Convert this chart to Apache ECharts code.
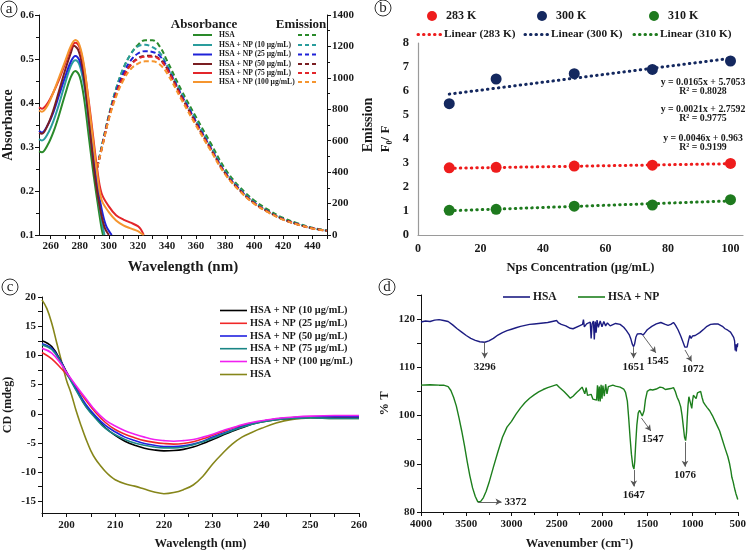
<!DOCTYPE html>
<html><head><meta charset="utf-8">
<script src="https://cdn.jsdelivr.net/npm/echarts@6/dist/echarts.min.js"></script>
<style>html,body{margin:0;padding:0;background:#fff}#c{width:749px;height:551px}</style>
</head><body><div id="c"></div>
<script>
const SERIF = '"Liberation Serif","Times New Roman",serif';

// ---------- Panel a : absorbance (left axis) ----------
const absSeriesNames = ['HSA','HSA + NP (10 μg/mL)','HSA + NP (25 μg/mL)','HSA + NP (50 μg/mL)','HSA + NP (75 μg/mL)','HSA + NP (100 μg/mL)'];
const aColors = ['#2a8a2a','#2a9d9d','#1f22d8','#7a1e22','#e3262b','#f5952f'];
const absWlHSA = [252,254,258,262,266,270,274,277,280,283,286,289,292,295,296];
const absHSA   = [0.29,0.288,0.305,0.335,0.375,0.42,0.46,0.473,0.46,0.41,0.33,0.25,0.18,0.115,0.1];
const absWl10  = [252,254,258,262,266,270,274,277,280,283,286,289,292,295,297];
const abs10    = [0.318,0.315,0.33,0.36,0.40,0.445,0.485,0.497,0.485,0.44,0.36,0.275,0.2,0.135,0.1];
const absWl25  = [252,254,258,262,266,270,274,277,280,283,286,289,292,295,298,302];
const abs25    = [0.337,0.333,0.35,0.38,0.42,0.46,0.495,0.507,0.495,0.455,0.38,0.29,0.215,0.16,0.122,0.1];
const absWl50  = [252,254,258,262,266,270,274,276,279,282,285,288,291,294,297,300];
const abs50    = [0.332,0.33,0.35,0.385,0.43,0.475,0.515,0.53,0.52,0.48,0.40,0.305,0.22,0.16,0.118,0.1];
const absWl75  = [252,254,258,262,266,270,274,277,280,283,286,289,292,295,300,305,310,315,320,322,324];
const abs75    = [0.39,0.387,0.40,0.425,0.455,0.49,0.525,0.537,0.525,0.48,0.41,0.33,0.25,0.195,0.165,0.145,0.135,0.128,0.12,0.113,0.1];
const absWl100 = [252,254,258,262,266,270,274,277,280,283,286,289,292,295,300,305,310,315,320,322,324];
const abs100   = [0.383,0.38,0.395,0.425,0.46,0.495,0.53,0.543,0.53,0.485,0.405,0.32,0.24,0.18,0.152,0.133,0.122,0.115,0.109,0.104,0.1];

// ---------- Panel a : emission (right axis) ----------
const emWl    = [292,296,300,305,310,315,320,325,330,335,340,350,360,370,380,390,400,410,420,430,440,450];
const emHSA   = [430,600,760,930,1060,1150,1210,1240,1240,1200,1110,920,750,585,420,305,220,158,108,74,46,28];
const em10    = [430,600,760,930,1060,1150,1200,1210,1195,1160,1080,900,730,565,405,295,210,150,102,70,44,28];
const em25    = [430,590,750,910,1030,1110,1155,1170,1165,1140,1070,890,720,555,398,290,205,147,100,68,43,27];
const em50    = [430,585,745,900,1010,1085,1125,1140,1140,1120,1060,880,710,548,392,285,202,145,99,67,43,27];
const em75    = [430,585,745,895,1005,1080,1120,1135,1135,1115,1055,875,705,545,390,283,200,144,98,67,42,27];
const em100   = [430,580,735,880,985,1055,1090,1105,1105,1085,1030,860,695,537,385,280,198,142,97,66,42,27];
const aXLabels = [260,280,300,320,340,360,380,400,420,440];
const aXTicks  = [260,270,280,290,300,310,320,330,340,350,360,370,380,390,400,410,420,430,440,450];

// ---------- Panel b ----------
const bConc   = [10,25,50,75,100];
const b283    = [2.8,2.82,2.87,2.91,2.98];
const b300    = [5.47,6.5,6.72,6.9,7.25];
const b310    = [1.03,1.07,1.2,1.25,1.47];
const bFitX   = [10,100];
const bFit283 = [2.78,2.97];
const bFit300 = [5.87,7.36];
const bFit310 = [1.01,1.42];
const bColors = ['#ee1c1c','#14285f','#1e7a1e'];
const bEquations = ['y = 0.0165x + 5.7053','R² = 0.8028','y = 0.0021x + 2.7592','R² = 0.9775','y = 0.0046x + 0.963','R² = 0.9199'];
const bXLabels = [0,20,40,60,80,100];

// ---------- Panel c ----------
const cdNames = ['HSA + NP (10 μg/mL)','HSA + NP (25 μg/mL)','HSA + NP (50 μg/mL)','HSA + NP (75 μg/mL)','HSA + NP (100 μg/mL)','HSA'];
const cColors = ['#000000','#f02828','#2020e0','#1a8585','#f020f0','#86861a'];
const cdWl   = [195,197,199,200,202,204,206,208,210,212,214,216,218,220,222,224,226,228,230,232,234,236,238,240,243,246,250,255,260];
const cd10   = [12.5,11.5,8.8,7.2,4.2,1.3,-0.6,-2.4,-3.7,-4.7,-5.4,-5.9,-6.2,-6.35,-6.3,-6.1,-5.7,-5.1,-4.4,-3.7,-3.0,-2.4,-1.8,-1.4,-1.0,-0.8,-0.6,-0.7,-0.7];
const cd25   = [10.5,9.4,7.7,6.8,4.6,2.3,0.2,-1.5,-2.7,-3.5,-4.1,-4.6,-4.9,-5.1,-5.2,-5.1,-4.8,-4.3,-3.7,-3.1,-2.5,-2.0,-1.6,-1.3,-0.9,-0.7,-0.5,-0.5,-0.5];
const cd50   = [12.0,11.2,8.8,7.1,4.3,1.6,-0.4,-2.0,-3.1,-4.0,-4.6,-5.1,-5.4,-5.6,-5.6,-5.5,-5.2,-4.7,-4.0,-3.4,-2.8,-2.2,-1.7,-1.3,-0.9,-0.7,-0.5,-0.5,-0.5];
const cd75   = [11.8,11.0,8.6,7.0,4.0,1.2,-0.8,-2.5,-3.6,-4.4,-5.0,-5.4,-5.7,-5.85,-5.85,-5.7,-5.3,-4.8,-4.2,-3.5,-2.9,-2.3,-1.8,-1.4,-1.0,-0.8,-0.7,-0.8,-0.8];
const cd100  = [11.2,10.4,8.4,7.1,4.8,2.6,0.5,-1.1,-2.1,-2.9,-3.5,-4.0,-4.4,-4.6,-4.7,-4.6,-4.4,-4.0,-3.5,-2.9,-2.4,-1.9,-1.5,-1.2,-0.8,-0.6,-0.4,-0.3,-0.3];
const cdWlHSA = [195,196,197,198,199,200,201,202,203,204,205,206,207,208,209,210,212,214,216,218,220,222,224,226,228,230,232,234,236,238,240,243,246,250,255,260];
const cdHSA   = [19.5,18,15.5,12.2,9,5.8,3.4,0.5,-2,-4.3,-6.3,-7.8,-8.9,-9.9,-10.7,-11.3,-12,-12.4,-12.9,-13.4,-13.7,-13.5,-13,-12.2,-10.7,-8.6,-6.8,-5.2,-4,-3.2,-2.5,-1.6,-1.0,-0.7,-0.8,-0.8];
const cXLabels = [200,210,220,230,240,250,260];
const cXTicks  = [195,200,205,210,215,220,225,230,235,240,245,250,255,260];
const cYLabels = [-15,-10,-5,0,5,10,15,20];
const cYTicks  = [-15,-12.5,-10,-7.5,-5,-2.5,0,2.5,5,7.5,10,12.5,15,17.5,20];

// ---------- Panel d (FTIR) ----------
const dNames = ['HSA','HSA + NP'];
const dColors = ['#1c1c82','#1d7f1d'];
const ftirHSA = [[4000,119.4],[3950,119.6],[3900,119.5],[3850,119.8],[3800,119.9],[3750,119.7],[3700,119.5],[3650,118.8],[3600,118.0],[3550,117.3],[3500,116.6],[3450,116.0],[3400,115.6],[3350,115.3],[3296,115.2],[3250,115.5],[3200,116.0],[3150,116.7],[3100,117.2],[3050,117.6],[3000,117.9],[2950,118.2],[2900,118.5],[2850,118.7],[2800,118.9],[2750,119.0],[2700,119.1],[2650,119.2],[2600,119.3],[2550,119.5],[2500,119.7],[2480,119.2],[2450,118.9],[2400,118.6],[2350,118.1],[2320,118.0],[2300,118.4],[2250,118.6],[2215,118.9],[2205,119.9],[2195,118.4],[2170,119.0],[2150,118.7],[2130,119.4],[2120,116.0],[2110,119.0],[2095,119.6],[2085,115.8],[2075,119.5],[2065,117.2],[2055,119.8],[2040,118.3],[2020,119.6],[2000,118.4],[1980,119.5],[1960,118.6],[1940,119.2],[1910,118.6],[1890,118.9],[1850,119.1],[1800,118.9],[1760,118.3],[1730,117.6],[1700,116.8],[1680,115.8],[1665,114.8],[1651,114.3],[1640,114.8],[1625,116.3],[1610,116.9],[1590,117.2],[1570,117.0],[1545,116.7],[1520,117.3],[1500,117.8],[1450,118.5],[1400,119.0],[1350,119.3],[1300,118.9],[1270,118.7],[1240,118.9],[1210,119.3],[1190,118.8],[1160,117.8],[1130,116.5],[1100,115.0],[1085,114.2],[1072,113.9],[1060,114.2],[1045,115.5],[1030,116.6],[1015,116.0],[1000,116.5],[985,116.1],[970,116.6],[950,116.9],[920,117.2],[900,117.5],[870,118.0],[840,118.5],[800,118.9],[760,119.0],[720,119.0],[700,118.8],[670,118.5],[640,118.0],[610,117.7],[580,117.3],[560,117.0],[545,116.2],[535,115.5],[528,113.5],[522,114.8],[516,113.3],[510,114.8],[505,114.2],[500,115.0]];
const ftirNP = [[4000,106.3],[3900,106.4],[3800,106.3],[3750,106.3],[3700,106.0],[3670,105.2],[3640,103.8],[3610,102.0],[3580,99.5],[3550,96.8],[3520,93.8],[3490,90.5],[3460,87.5],[3430,85.0],[3400,83.2],[3372,82.1],[3340,82.2],[3310,83.0],[3280,84.3],[3250,86.0],[3200,89.3],[3150,92.5],[3100,95.5],[3050,97.6],[3000,98.8],[2950,100.3],[2900,101.6],[2850,102.7],[2800,103.6],[2750,104.3],[2700,104.9],[2650,105.4],[2600,105.8],[2550,106.1],[2500,106.4],[2470,105.8],[2420,105.0],[2380,104.2],[2350,103.6],[2320,104.0],[2280,104.8],[2250,105.3],[2220,105.9],[2200,106.2],[2190,104.5],[2175,105.8],[2160,104.2],[2140,103.8],[2120,104.4],[2100,103.4],[2080,103.7],[2060,103.2],[2050,106.3],[2040,103.0],[2030,106.0],[2020,102.9],[2010,106.4],[2000,103.5],[1990,106.2],[1975,104.0],[1960,106.5],[1945,104.5],[1930,106.0],[1910,105.8],[1880,106.3],[1850,106.1],[1800,105.9],[1760,105.5],[1740,104.8],[1720,103.0],[1705,99.5],[1690,95.5],[1675,92.0],[1660,89.6],[1647,88.9],[1638,90.5],[1628,94.0],[1615,98.0],[1600,100.5],[1585,101.1],[1570,100.8],[1555,99.9],[1547,99.6],[1535,101.0],[1520,103.3],[1500,105.0],[1470,105.4],[1440,105.3],[1400,105.5],[1360,105.9],[1330,105.8],[1300,105.4],[1270,105.5],[1240,105.6],[1210,105.8],[1190,105.0],[1170,103.8],[1150,103.0],[1130,101.8],[1115,100.0],[1100,97.5],[1088,95.5],[1076,94.8],[1066,96.5],[1058,99.5],[1050,102.0],[1040,103.9],[1030,104.3],[1018,103.5],[1008,101.5],[1000,103.0],[990,104.2],[975,104.5],[960,103.5],[945,104.7],[925,105.1],[910,105.0],[895,103.8],[880,102.8],[860,102.2],[840,101.7],[810,101.0],[780,100.0],[750,98.8],[720,97.6],[700,96.8],[670,95.0],[640,93.2],[610,91.5],[590,90.0],[575,88.5],[565,87.2],[560,87.6],[550,86.2],[540,85.3],[530,84.5],[520,83.8],[510,83.2],[505,82.9],[500,82.6]];
// peak annotations: [label, arrow start (x,y), arrow end (x,y)]
const dPeaksHSA = [['3296',3296,115.2,3296,111.9],['1651',1651,114.2,1651,111.9],['1545',1547,116.6,1405,113.0],['1072',1083,113.6,1010,111.2]];
const dPeaksNP  = [['3372',3369,82.1,3110,82.1],['1647',1649,88.7,1649,85.3],['1547',1565,99.5,1460,96.8],['1076',1083,94.5,1083,89.4]];
const dYLabels = [80,90,100,110,120];
const dYTicks  = [80,85,90,95,100,105,110,115,120,125];

// ---------- helpers ----------
const zip = (xs, ys) => xs.map((x, i) => [x, ys[i]]);
const plain = v => String(+v.toFixed(4));
const lblStyle = (size) => ({fontFamily: SERIF, fontWeight: 'bold', fontSize: size, color: '#1a1a1a', formatter: plain});
function axis(extra) {
  const base = {
    type: 'value', splitLine: {show: false},
    axisLine: {show: true, onZero: false, lineStyle: {color: '#111', width: 1}},
    axisTick: {show: true, length: 4, lineStyle: {color: '#111'}},
    nameLocation: 'middle',
    nameTextStyle: {fontFamily: SERIF, fontWeight: 'bold', fontSize: 13, color: '#1a1a1a'}
  };
  const o = Object.assign({}, base, extra);
  o.axisLabel = Object.assign({}, lblStyle(11), extra.axisLabel || {});
  o.axisTick = Object.assign({}, base.axisTick, extra.axisTick || {});
  o.axisLine = Object.assign({}, base.axisLine, extra.axisLine || {});
  o.nameTextStyle = Object.assign({}, base.nameTextStyle, extra.nameTextStyle || {});
  return o;
}
function txt(x, y, t, font, align, color) {
  return {type: 'text', x: x, y: y, silent: true,
    style: {text: t, font: font, fill: color || '#1a1a1a', textAlign: align || 'left', textVerticalAlign: 'middle', align: align || 'left', verticalAlign: 'middle'}};
}
function seg(x1, y1, x2, y2, color, w, dash, cap) {
  return {type: 'line', silent: true, shape: {x1, y1, x2, y2},
    style: {stroke: color, lineWidth: w, lineDash: dash || null, lineCap: cap || 'butt'}};
}
function circLabel(cx, cy, letter) {
  return [{type: 'circle', silent: true, shape: {cx, cy, r: 8}, style: {fill: 'none', stroke: '#333', lineWidth: 1}},
          txt(cx, cy + 0.5, letter, '15px ' + SERIF, 'center', '#222')];
}

// ---------- graphics (legends, labels) ----------
const graphics = [];
graphics.push(...circLabel(9, 9, 'a'), ...circLabel(383, 8, 'b'), ...circLabel(10, 287, 'c'), ...circLabel(387, 287, 'd'));
// panel a legend
graphics.push(txt(204, 25, 'Absorbance', 'bold 13px ' + SERIF, 'center'));
graphics.push(txt(301, 25, 'Emission', 'bold 13px ' + SERIF, 'center'));
const aRows = [35, 45, 54.5, 64, 73, 82];
absSeriesNames.forEach((n, i) => {
  graphics.push(seg(193, aRows[i], 212, aRows[i], aColors[i], 2));
  graphics.push(txt(219, aRows[i], n, 'bold 7.6px ' + SERIF, 'left'));
  graphics.push(seg(298, aRows[i], 317, aRows[i], aColors[i], 2, [4, 3]));
});
// panel b legend
const bLegNames = ['283 K', '300 K', '310 K'];
const bLegX = [432, 542, 654];
bLegNames.forEach((n, i) => {
  graphics.push({type: 'circle', silent: true, shape: {cx: bLegX[i], cy: 16, r: 5}, style: {fill: bColors[i]}});
  graphics.push(txt(bLegX[i] + 14, 16, n, 'bold 12px ' + SERIF, 'left'));
});
const bLinX = [418, 525, 634];
bLegNames.forEach((n, i) => {
  graphics.push(seg(bLinX[i], 34.5, bLinX[i] + 23, 34.5, bColors[i], 3, [0.5, 5], 'round'));
  graphics.push(txt(bLinX[i] + 26, 34.5, 'Linear (' + n + ')', 'bold 11.3px ' + SERIF, 'left'));
});
const bEqY = [82, 91.5, 109, 118.5, 138, 147.5];
bEquations.forEach((t, i) => graphics.push(txt(703, bEqY[i], t, 'bold 9.8px ' + SERIF, 'center')));
// panel c legend
const cRows = [310.5, 323.3, 336, 348.7, 361.5, 374.5];
cdNames.forEach((n, i) => {
  graphics.push(seg(220, cRows[i], 247, cRows[i], cColors[i], 1.6));
  graphics.push(txt(250, cRows[i], n, 'bold 10.3px ' + SERIF, 'left'));
});
// panel d legend
graphics.push(seg(503, 297, 530, 297, dColors[0], 1.6));
graphics.push(txt(533, 297, dNames[0], 'bold 11.5px ' + SERIF, 'left'));
graphics.push(seg(578, 297, 605, 297, dColors[1], 1.6));
graphics.push(txt(608, 297, dNames[1], 'bold 11.5px ' + SERIF, 'left'));

function peakLines(list) {
  return {
    silent: true, symbol: ['none', 'arrow'], symbolSize: [5, 6], precision: 0,
    lineStyle: {color: '#555', width: 0.9, type: 'solid'},
    label: {show: true, position: 'end', distance: 3, formatter: '{b}', fontFamily: SERIF, fontWeight: 'bold', fontSize: 11, color: '#1a1a1a'},
    emphasis: {disabled: true},
    data: list.map(p => [{name: p[0], coord: [p[1], p[2]]}, {coord: [p[3], p[4]]}])
  };
}

const series = [];
// panel a emission (dashed) and absorbance (solid)
[emHSA, em10, em25, em50, em75, em100].forEach((d, i) => series.push({
  type: 'line', xAxisIndex: 0, yAxisIndex: 1, data: zip(emWl, d), smooth: 0.4, showSymbol: false,
  lineStyle: {color: aColors[i], width: 2, type: [5, 3]}, itemStyle: {color: aColors[i]}
}));
[[absWlHSA, absHSA], [absWl10, abs10], [absWl25, abs25], [absWl50, abs50], [absWl75, abs75], [absWl100, abs100]].forEach((p, i) => series.push({
  type: 'line', xAxisIndex: 0, yAxisIndex: 0, data: zip(p[0], p[1]), smooth: 0.35, showSymbol: false,
  lineStyle: {color: aColors[i], width: 2}, itemStyle: {color: aColors[i]}
}));
// panel b
[bFit283, bFit300, bFit310].forEach((d, i) => series.push({
  type: 'line', xAxisIndex: 1, yAxisIndex: 2, data: zip(bFitX, d), showSymbol: false,
  lineStyle: {color: bColors[i], width: 3, type: [0.5, 5], cap: 'round'}
}));
[b283, b300, b310].forEach((d, i) => series.push({
  type: 'scatter', xAxisIndex: 1, yAxisIndex: 2, data: zip(bConc, d), symbolSize: 11,
  itemStyle: {color: bColors[i], opacity: 1}
}));
// panel c
series.push({type: 'line', xAxisIndex: 2, yAxisIndex: 3, data: zip(cdWlHSA, cdHSA), smooth: 0.4, showSymbol: false,
  lineStyle: {color: cColors[5], width: 1.6}});
[cd10, cd25, cd50, cd75, cd100].forEach((d, i) => series.push({
  type: 'line', xAxisIndex: 2, yAxisIndex: 3, data: zip(cdWl, d), smooth: 0.4, showSymbol: false,
  lineStyle: {color: cColors[i], width: 1.6}
}));
// panel d
series.push({type: 'line', xAxisIndex: 3, yAxisIndex: 4, data: ftirHSA, showSymbol: false,
  lineStyle: {color: dColors[0], width: 1.4}, markLine: peakLines(dPeaksHSA)});
series.push({type: 'line', xAxisIndex: 3, yAxisIndex: 4, data: ftirNP, showSymbol: false,
  lineStyle: {color: dColors[1], width: 1.4}, markLine: peakLines(dPeaksNP)});

const option = {
  animation: false,
  backgroundColor: '#fff',
  grid: [
    {left: 36, top: 15, width: 291, height: 220},
    {left: 418, top: 43, width: 325, height: 192},
    {left: 42, top: 297, width: 317, height: 224},
    {left: 421, top: 295, width: 320, height: 223}
  ],
  xAxis: [
    axis({gridIndex: 0, min: 252, max: 450, name: 'Wavelength (nm)', nameGap: 25,
      nameTextStyle: {fontSize: 15}, axisLabel: {customValues: aXLabels, margin: 6}, axisTick: {customValues: aXTicks}}),
    axis({gridIndex: 1, min: 0, max: 104, name: 'Nps Concentration (μg/mL)', nameGap: 26,
      nameTextStyle: {fontSize: 12.5}, axisLine: {lineStyle: {color: '#9a9a9a', width: 1.2}},
      axisTick: {show: false}, axisLabel: Object.assign(lblStyle(12), {customValues: bXLabels, margin: 8})}),
    axis({gridIndex: 2, min: 195, max: 260, name: 'Wavelength (nm)', nameGap: 24,
      nameTextStyle: {fontSize: 12.5}, axisLabel: {customValues: cXLabels, margin: 7}, axisTick: {customValues: cXTicks}}),
    axis({gridIndex: 3, min: 500, max: 4000, inverse: true, interval: 500, name: 'Wavenumber (cm⁻¹)', nameGap: 25,
      nameTextStyle: {fontSize: 12.5}, axisLabel: {margin: 7}, minorTick: {show: true, splitNumber: 2, length: 3}})
  ],
  yAxis: [
    axis({gridIndex: 0, min: 0.1, max: 0.6, interval: 0.1, name: 'Absorbance', nameGap: 24,
      nameTextStyle: {fontSize: 14}, minorTick: {show: true, splitNumber: 2, length: 3}, axisLabel: {margin: 5}}),
    axis({gridIndex: 0, position: 'right', min: 0, max: 1400, interval: 200, name: 'Emission', nameGap: 34,
      nameTextStyle: {fontSize: 14}, minorTick: {show: true, splitNumber: 2, length: 3}, axisLabel: {margin: 5}}),
    axis({gridIndex: 1, min: 0, max: 8, interval: 1, name: 'F₀/ F', nameGap: 26,
      nameTextStyle: {fontSize: 13}, axisLine: {lineStyle: {color: '#9a9a9a', width: 1.2}},
      axisTick: {show: false}, axisLabel: Object.assign(lblStyle(12.5), {margin: 9})}),
    axis({gridIndex: 2, min: -17, max: 20, name: 'CD (mdeg)', nameGap: 28,
      nameTextStyle: {fontSize: 12}, axisLabel: {customValues: cYLabels, margin: 6}, axisTick: {customValues: cYTicks}}),
    axis({gridIndex: 3, min: 80, max: 125, name: '% T', nameGap: 30,
      nameTextStyle: {fontSize: 12.5}, axisLabel: {customValues: dYLabels, margin: 6}, axisTick: {customValues: dYTicks}})
  ],
  series: series,
  graphic: {elements: graphics}
};
const chart = echarts.init(document.getElementById('c'), null, {renderer: 'canvas'});
chart.setOption(option);
</script></body></html>
